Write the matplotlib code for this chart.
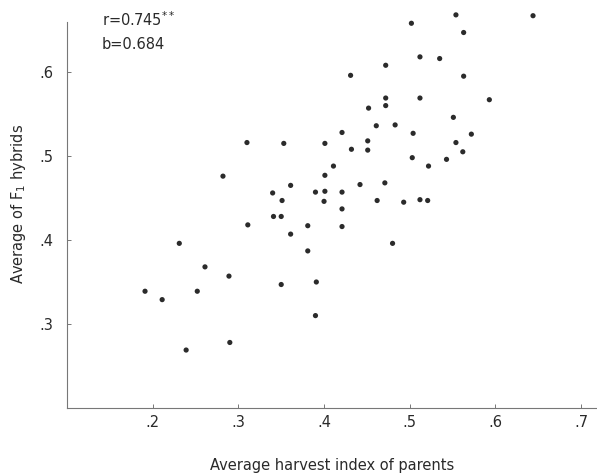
import matplotlib
matplotlib.use('Agg')
import matplotlib.pyplot as plt

# average harvest index of parents (x) vs average of F1 hybrids (y)
parents = [
    0.310, 0.353, 0.282, 0.361, 0.340, 0.351, 0.554, 0.644, 0.502, 0.563,
    0.512, 0.535, 0.472, 0.431, 0.563, 0.472, 0.512, 0.593, 0.452, 0.472,
    0.551, 0.461, 0.483, 0.421, 0.504, 0.572, 0.401, 0.451, 0.554, 0.432,
    0.451, 0.562, 0.503, 0.543, 0.522, 0.411, 0.401, 0.442, 0.471, 0.390,
    0.401, 0.421, 0.400, 0.462, 0.493, 0.512, 0.521, 0.421, 0.381, 0.421,
    0.381, 0.480, 0.391, 0.390, 0.341, 0.350, 0.311, 0.361, 0.231, 0.261,
    0.289, 0.191, 0.252, 0.211, 0.350, 0.239, 0.290,
]
hybrids = [
    0.516, 0.515, 0.476, 0.465, 0.456, 0.447, 0.668, 0.667, 0.658, 0.647,
    0.618, 0.616, 0.608, 0.596, 0.595, 0.569, 0.569, 0.567, 0.557, 0.560,
    0.546, 0.536, 0.537, 0.528, 0.527, 0.526, 0.515, 0.518, 0.516, 0.508,
    0.507, 0.505, 0.498, 0.496, 0.488, 0.488, 0.477, 0.466, 0.468, 0.457,
    0.458, 0.457, 0.446, 0.447, 0.445, 0.448, 0.447, 0.437, 0.417, 0.416,
    0.387, 0.396, 0.350, 0.310, 0.428, 0.428, 0.418, 0.407, 0.396, 0.368,
    0.357, 0.339, 0.339, 0.329, 0.347, 0.269, 0.278,
]
x_ticks = [0.2, 0.3, 0.4, 0.5, 0.6, 0.7]
y_ticks = [0.3, 0.4, 0.5, 0.6]

ink = '#2a2a2a'
axis_col = '#777777'

fig = plt.figure(figsize=(5.97, 4.73), dpi=100, facecolor='white')
ax = fig.add_axes([67 / 597, 65 / 473, 530 / 597, 408 / 473])

ax.scatter(parents, hybrids, s=14, color='#2b2b2b', edgecolors='none', zorder=3)

ax.set_xlim(0.0999, 0.7187)
ax.set_ylim(0.2, 0.6857)
ax.set_xticks(x_ticks)
ax.set_yticks(y_ticks)
ax.set_xticklabels(['.' + f'{v:.1f}'.split('.')[1] for v in x_ticks])
ax.set_yticklabels(['.' + f'{v:.1f}'.split('.')[1] for v in y_ticks])

for side in ['top', 'right']:
    ax.spines[side].set_visible(False)
for side in ['left', 'bottom']:
    ax.spines[side].set_color(axis_col)
    ax.spines[side].set_linewidth(0.8)
ax.spines['left'].set_bounds(0.2, 0.66)

ax.tick_params(axis='both', direction='in', length=3, width=0.7, color=axis_col,
               labelsize=10.5, labelcolor=ink)
ax.tick_params(axis='x', pad=5)
ax.tick_params(axis='y', pad=10)

ax.set_xlabel('Average harvest index of parents', fontsize=10.5, color=ink, labelpad=20)
ax.set_ylabel(r'Average of F$_{\mathregular{1}}$ hybrids', fontsize=10.5, color=ink, labelpad=8)

ax.text(0.066, 0.952, r'r=0.745$^{**}$', transform=ax.transAxes, fontsize=10.5,
        color=ink, va='center', ha='left')
ax.text(0.066, 0.890, 'b=0.684', transform=ax.transAxes, fontsize=10.5,
        color=ink, va='center', ha='left')

fig.savefig('out.png', dpi=100, facecolor='white')
